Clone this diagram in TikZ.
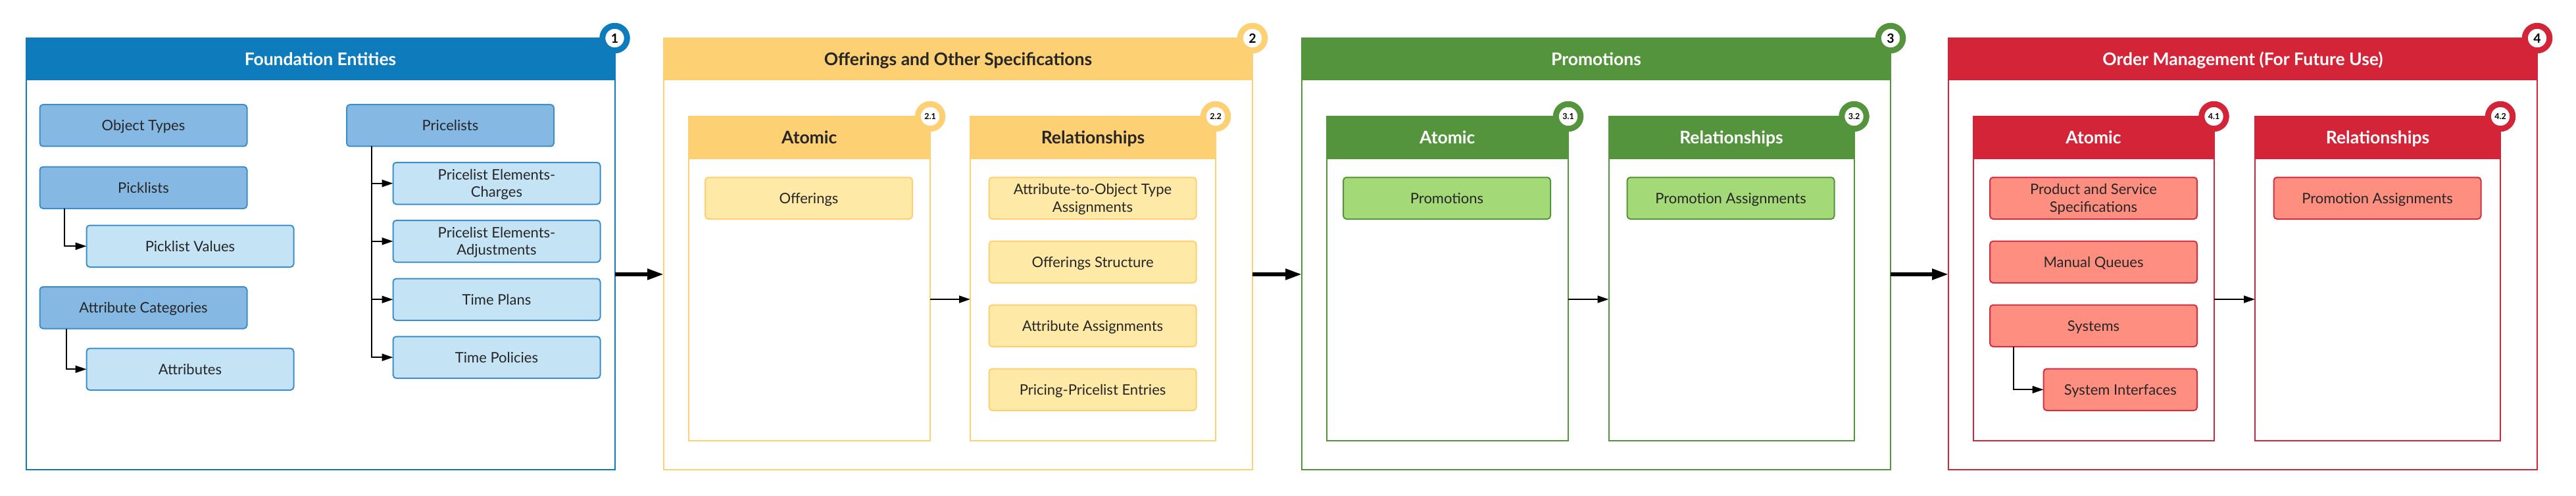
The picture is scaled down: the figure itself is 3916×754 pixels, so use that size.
\documentclass[tikz,border=0pt]{standalone}
\usepackage{fontspec}
\setmainfont{Lato}
\usetikzlibrary{arrows.meta}
\definecolor{cblue}{HTML}{0E7CBC}
\definecolor{bluedark}{HTML}{85B9E3}
\definecolor{bluelight}{HTML}{C4E4F6}
\definecolor{blueline}{HTML}{3C8DC8}
\definecolor{cyellow}{HTML}{FCD073}
\definecolor{yellowbox}{HTML}{FEE9A6}
\definecolor{cgreen}{HTML}{54943C}
\definecolor{greenbox}{HTML}{A4D977}
\definecolor{cred}{HTML}{D42438}
\definecolor{redbox}{HTML}{FE8E80}
\definecolor{redline}{HTML}{D0303F}
\definecolor{txt}{HTML}{262626}
\tikzset{
  every node/.style={outer sep=0pt, inner sep=0pt},
  framebox/.style={draw=#1, line width=2pt, minimum width=895pt, minimum height=656pt, anchor=north west},
  framehead/.style={fill=#1, minimum width=895pt, minimum height=64pt, anchor=north west,
    font=\fontsize{26.5}{30}\selectfont\bfseries, text height=19pt, text depth=0pt},
  badge/.style={circle, draw=#1, fill=white, line width=9pt, minimum size=37.5pt,
    font=\fontsize{19.5}{22}\selectfont\bfseries, text=black},
  subbadge/.style={circle, draw=#1, fill=white, line width=9pt, minimum size=37.5pt,
    font=\fontsize{12.5}{14}\selectfont\bfseries, text=black},
  subframe/.style={draw=#1, line width=2pt, minimum height=493pt, anchor=north west},
  subhead/.style={fill=#1, minimum height=64.5pt, anchor=north west,
    font=\fontsize{26.5}{30}\selectfont\bfseries, text height=19pt, text depth=0pt},
  box/.style 2 args={fill=#1, draw=#2, line width=2pt, rounded corners=5pt, minimum width=315pt,
    minimum height=63.5pt, anchor=north west, align=center, text=txt,
    font=\fontsize{22}{26.4}\selectfont, text height=15.8pt, text depth=0pt},
  twoline/.style={text height=42.2pt, text depth=0pt},
  conn/.style={draw=black, line width=2pt, -{Triangle[length=17pt,width=11pt]}},
  bigarrow/.style={draw=black, line width=5.5pt, -{Triangle[length=25pt,width=16pt]}},
}
\begin{document}
\begin{tikzpicture}[x=1pt,y=-1pt]
\useasboundingbox (0,0) rectangle (3916,754);
% ---------- Frame 1
\node[framebox=cblue] (f1) at (39.5,58) {};
\node[framehead=cblue, text=white] (f1h) at (39.5,58) {Foundation Entities};
\node[box={bluedark}{blueline}] (ot) at (60.5,159) {Object Types};
\node[box={bluedark}{blueline}] (pk) at (60.5,253.5) {Picklists};
\node[box={bluelight}{blueline}] (pkv) at (131.5,342.5) {Picklist Values};
\node[box={bluedark}{blueline}] (ac) at (60.5,436) {Attribute Categories};
\node[box={bluelight}{blueline}] (at) at (131.5,529.5) {Attributes};
\node[box={bluedark}{blueline}] (pl) at (527,159) {Pricelists};
\node[box={bluelight}{blueline}, twoline] (pec) at (597.5,247) {Pricelist Elements-\\Charges};
\node[box={bluelight}{blueline}, twoline] (pea) at (597.5,335) {Pricelist Elements-\\Adjustments};
\node[box={bluelight}{blueline}] (tpl) at (597.5,423.5) {Time Plans};
\node[box={bluelight}{blueline}] (tpo) at (597.5,511.5) {Time Policies};
\draw[conn] ([xshift=37.5pt]pk.south west) |- (pkv.west);
\draw[conn] ([xshift=40pt]ac.south west) |- (at.west);
\draw[conn] ([xshift=37.5pt]pl.south west) |- (pec.west);
\draw[conn] ([xshift=37.5pt]pl.south west) |- (pea.west);
\draw[conn] ([xshift=37.5pt]pl.south west) |- (tpl.west);
\draw[conn] ([xshift=37.5pt]pl.south west) |- (tpo.west);
\node[badge=cblue] (b1) at (f1.north east) {1};
% ---------- Frame 2
\node[framebox=cyellow] (f2) at (1009,58) {};
\node[framehead=cyellow, text=txt] (f2h) at (1009,58) {Offerings and Other Specifications};
\node[subframe=cyellow, minimum width=367.5pt] (a2) at (1046.5,177) {};
\node[subhead=cyellow, minimum width=367.5pt, text=txt] (a2h) at (1046.5,177) {Atomic};
\node[subframe=cyellow, minimum width=373pt] (r2) at (1475,177) {};
\node[subhead=cyellow, minimum width=373pt, text=txt] (r2h) at (1475,177) {Relationships};
\node[box={yellowbox}{cyellow}] (off) at (1072,269.5) {Offerings};
\node[box={yellowbox}{cyellow}, twoline] (atoa) at (1503.5,269.5) {Attribute-to-Object Type\\Assignments};
\node[box={yellowbox}{cyellow}] (ofs) at (1503.5,366.5) {Offerings Structure};
\node[box={yellowbox}{cyellow}] (aas) at (1503.5,463.5) {Attribute Assignments};
\node[box={yellowbox}{cyellow}] (ppe) at (1503.5,560.5) {Pricing-Pricelist Entries};
\draw[conn] ([yshift=-31.5pt]a2.east) -- ([yshift=-31.5pt]r2.west);
\node[subbadge=cyellow] (b21) at (a2.north east) {2.1};
\node[subbadge=cyellow] (b22) at (r2.north east) {2.2};
\node[badge=cyellow] (b2) at (f2.north east) {2};
% ---------- Frame 3
\node[framebox=cgreen] (f3) at (1979,58) {};
\node[framehead=cgreen, text=white] (f3h) at (1979,58) {Promotions};
\node[subframe=cgreen, minimum width=367.5pt] (a3) at (2016.5,177) {};
\node[subhead=cgreen, minimum width=367.5pt, text=white] (a3h) at (2016.5,177) {Atomic};
\node[subframe=cgreen, minimum width=373pt] (r3) at (2445.5,177) {};
\node[subhead=cgreen, minimum width=373pt, text=white] (r3h) at (2445.5,177) {Relationships};
\node[box={greenbox}{cgreen}] (pro) at (2042,269.5) {Promotions};
\node[box={greenbox}{cgreen}] (pas) at (2473.5,269.5) {Promotion Assignments};
\draw[conn] ([yshift=-31.5pt]a3.east) -- ([yshift=-31.5pt]r3.west);
\node[subbadge=cgreen] (b31) at (a3.north east) {3.1};
\node[subbadge=cgreen] (b32) at (r3.north east) {3.2};
\node[badge=cgreen] (b3) at (f3.north east) {3};
% ---------- Frame 4
\node[framebox=cred] (f4) at (2962,58) {};
\node[framehead=cred, text=white] (f4h) at (2962,58) {Order Management (For Future Use)};
\node[subframe=cred, minimum width=366pt] (a4) at (2999.5,177) {};
\node[subhead=cred, minimum width=366pt, text=white] (a4h) at (2999.5,177) {Atomic};
\node[subframe=cred, minimum width=373pt] (r4) at (3428,177) {};
\node[subhead=cred, minimum width=373pt, text=white] (r4h) at (3428,177) {Relationships};
\node[box={redbox}{redline}, twoline] (pss) at (3025,269.5) {Product and Service\\Specifications};
\node[box={redbox}{redline}] (mq) at (3025,366.5) {Manual Queues};
\node[box={redbox}{redline}] (sys) at (3025,463.5) {Systems};
\node[box={redbox}{redline}, minimum width=233.5pt] (sif) at (3106.5,560.5) {System Interfaces};
\node[box={redbox}{redline}] (pas4) at (3456.5,269.5) {Promotion Assignments};
\draw[conn] ([xshift=36pt]sys.south west) |- (sif.west);
\draw[conn] ([yshift=-31.5pt]a4.east) -- ([yshift=-31.5pt]r4.west);
\node[subbadge=cred] (b41) at (a4.north east) {4.1};
\node[subbadge=cred] (b42) at (r4.north east) {4.2};
\node[badge=cred] (b4) at (f4.north east) {4};
% ---------- between frames
\draw[bigarrow] ([yshift=-31pt]f1.east) -- ([yshift=-31pt]f2.west);
\draw[bigarrow] ([yshift=-31pt]f2.east) -- ([yshift=-31pt]f3.west);
\draw[bigarrow] ([yshift=-31pt]f3.east) -- ([yshift=-31pt]f4.west);
\end{tikzpicture}
\end{document}
